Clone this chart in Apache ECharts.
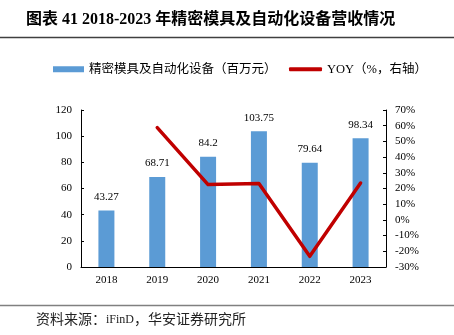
<!DOCTYPE html>
<html><head><meta charset="utf-8">
<script src="https://cdn.jsdelivr.net/npm/echarts@6/dist/echarts.min.js"></script>
<style>html,body{margin:0;padding:0;background:#fff}#c{width:454px;height:335px}</style>
</head><body><div id="c"></div>
<script>
const categories = ['2018','2019','2020','2021','2022','2023'];
const revenue = [43.27, 68.71, 84.2, 103.75, 79.64, 98.34];
const yoy = [null, 58.8, 22.5, 23.2, -23.2, 23.5];
const leftTicks = {min: 0, max: 120, interval: 20};
const rightTicks = {min: -30, max: 70, interval: 10};
const titleText = '图表 41 2018-2023 年精密模具及自动化设备营收情况';
const sourceCn1 = '资料来源：';
const sourceEn = 'iFinD';
const sourceCn2 = '，华安证券研究所';
const barName = '精密模具及自动化设备（百万元）';
const lineName = 'YOY（%，右轴）';

const serif = '"Liberation Serif","Times New Roman","Noto Sans CJK SC",serif';
const chart = echarts.init(document.getElementById('c'), null, {renderer: 'canvas'});
chart.setOption({
  animation: false,
  textStyle: {fontFamily: serif},
  title: {text: titleText, left: 21, top: 7, textStyle: {fontFamily: serif, fontSize: 16, fontWeight: 'bold', color: '#000'}},
  graphic: [
    {type: 'line', shape: {x1: 0, y1: 37.5, x2: 454, y2: 37.5}, style: {stroke: '#404040', lineWidth: 1.5}},
    {type: 'line', shape: {x1: 0, y1: 305.5, x2: 454, y2: 305.5}, style: {stroke: '#808080', lineWidth: 1.5}},
    {type: 'text', left: 36, top: 313, style: {
      text: '{a|' + sourceCn1 + '}{b|' + sourceEn + '}{a|' + sourceCn2 + '}',
      rich: {
        a: {fontFamily: serif, fontSize: 14, fill: '#222', color: '#222'},
        b: {fontFamily: serif, fontSize: 12, fill: '#222', color: '#222'}
      }
    }}
  ],
  legend: [
    {left: 53, top: 63, padding: 0, itemWidth: 31, itemHeight: 6, itemGap: 5,
     textStyle: {fontFamily: serif, fontSize: 12.5, color: '#000'},
     data: [{name: barName, icon: 'rect'}]},
    {left: 289, top: 63, padding: 0, itemWidth: 33, itemHeight: 4, itemGap: 5,
     textStyle: {fontFamily: serif, fontSize: 12.5, color: '#000'},
     data: [{name: lineName, icon: 'roundRect'}]}
  ],
  grid: {left: 81, right: 68, top: 110, bottom: 68},
  xAxis: {
    type: 'category', data: categories,
    axisLine: {lineStyle: {color: '#000', width: 1}},
    axisTick: {inside: true, length: 4, lineStyle: {color: '#000'}},
    axisLabel: {color: '#000', fontSize: 11, margin: 8, fontFamily: serif}
  },
  yAxis: [
    {type: 'value', min: leftTicks.min, max: leftTicks.max, interval: leftTicks.interval,
     splitLine: {show: false},
     axisLine: {show: true, lineStyle: {color: '#000'}},
     axisTick: {show: true, inside: true, length: 3, lineStyle: {color: '#000'}},
     axisLabel: {color: '#000', fontSize: 11, margin: 9, fontFamily: serif}},
    {type: 'value', min: rightTicks.min, max: rightTicks.max, interval: rightTicks.interval,
     splitLine: {show: false},
     axisLine: {show: true, lineStyle: {color: '#000'}},
     axisTick: {show: true, inside: true, length: 3, lineStyle: {color: '#000'}},
     axisLabel: {color: '#000', fontSize: 11, margin: 9, fontFamily: serif, formatter: '{value}%'}}
  ],
  series: [
    {name: barName, type: 'bar', data: revenue, barWidth: 16, yAxisIndex: 0,
     itemStyle: {color: '#5B9BD5'},
     label: {show: true, position: 'top', distance: 8, color: '#000', fontSize: 11, fontFamily: serif}},
    {name: lineName, type: 'line', data: yoy, yAxisIndex: 1, symbol: 'none',
     lineStyle: {color: '#C00000', width: 3.5, cap: 'round', join: 'round'}, itemStyle: {color: '#C00000'}}
  ]
});
</script></body></html>
